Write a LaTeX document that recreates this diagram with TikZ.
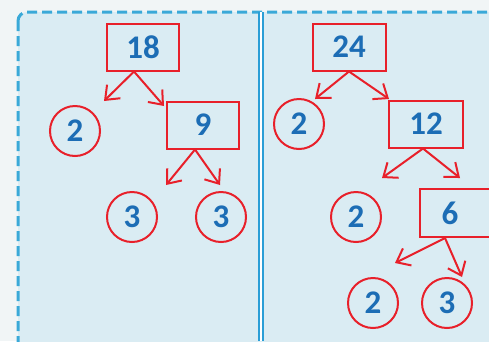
\documentclass[tikz,border=0pt]{standalone}
\usepackage{fontspec}
\setmainfont{Carlito}
\usetikzlibrary{arrows.meta}
\definecolor{boxred}{HTML}{E8202A}
\definecolor{numblue}{HTML}{1C6DB5}
\definecolor{dashblue}{HTML}{3AA9D8}
\definecolor{lineblue}{HTML}{2A9ED6}
\definecolor{panelbg}{HTML}{DAECF3}
\definecolor{pagebg}{HTML}{F1F5F6}
\begin{document}
\begin{tikzpicture}[x=1pt,y=-1pt,
  num/.style={text=numblue,font=\fontsize{33}{36}\selectfont\bfseries},
  numbox/.style={num,draw=boxred,line width=2pt,minimum width=72pt,minimum height=47pt,inner sep=0pt},
  numcirc/.style={num,draw=boxred,line width=2pt,circle,minimum size=50pt,inner sep=0pt},
  split/.style={draw=boxred,line width=2pt,-{Straight Barb[length=12pt,width=19pt]}}]
\fill[pagebg] (0,0) rectangle (489,341);
\useasboundingbox (0,0) rectangle (489,341);
\clip (0,0) rectangle (489,341);
\fill[panelbg,rounded corners=9pt] (18,12) rectangle (520,370);
\draw[dashblue,line width=3pt,dash pattern=on 10pt off 5pt,rounded corners=9pt] (18,12) rectangle (520,370);
\draw[lineblue,line width=2pt,double=white,double distance=2pt] (261,12)--(261,341);

% 18 = 2 x 3 x 3
\node[numbox] (b18) at (143,47) {18};
\node[numcirc] (c2a) at (75,131) {2};
\node[numbox] (b9) at (203,125) {9};
\node[numcirc] (c3a) at (132,217) {3};
\node[numcirc] (c3b) at (221,217) {3};

\coordinate (t1) at (104,101);
\coordinate (t2) at (164,106);
\coordinate (t3) at (166,185);
\coordinate (t4) at (220,185);
\draw[split] ([xshift=-9pt]b18.south)--(t1);
\draw[split] ([xshift=-9pt]b18.south)--(t2);
\draw[split] ([xshift=-8pt]b9.south)--(t3);
\draw[split] ([xshift=-8pt]b9.south)--(t4);

% 24 = 2 x 2 x 2 x 3
\node[numbox,minimum width=73pt] (b24) at (349,47) {24};
\node[numcirc] (c2b) at (299,124) {2};
\node[numbox,minimum width=74pt] (b12) at (426,124) {12};
\node[numcirc] (c2c) at (356,217) {2};
\node[numbox,minimum width=74pt,minimum height=48pt,label={[num,xshift=-7pt]center:6}] (b6) at (457,213) {};
\node[numcirc] (c2d) at (373,303) {2};
\node[numcirc] (c3c) at (447,303) {3};

\coordinate (t5) at (315,99);
\coordinate (t6) at (389,99);
\coordinate (t7) at (382,178);
\coordinate (t8) at (460,178);
\coordinate (t9) at (395,263);
\coordinate (t10) at (462,277);
\draw[split] (b24.south)--(t5);
\draw[split] (b24.south)--(t6);
\draw[split] ([xshift=-3pt]b12.south)--(t7);
\draw[split] ([xshift=-3pt]b12.south)--(t8);
\draw[split] ([xshift=-12pt]b6.south)--(t9);
\draw[split] ([xshift=-12pt]b6.south)--(t10);
\end{tikzpicture}
\end{document}
